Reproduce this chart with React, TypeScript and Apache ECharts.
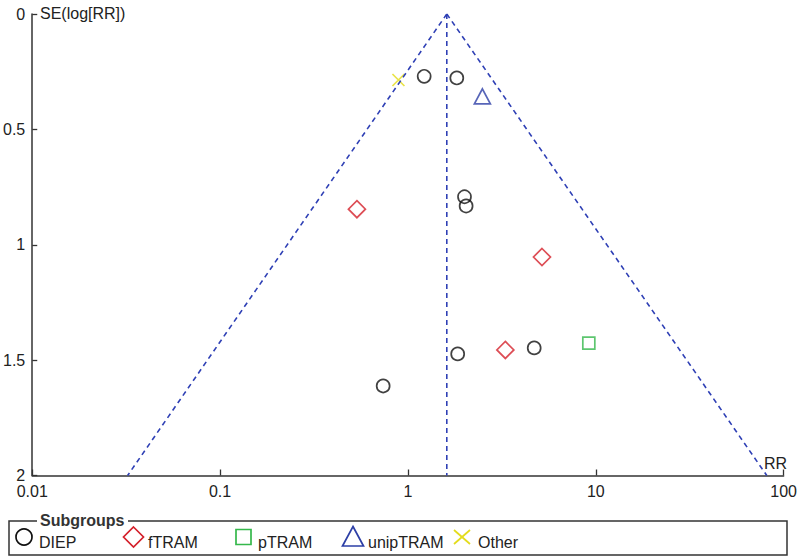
import React, { useEffect, useRef } from "react";
import * as echarts from "echarts";

// ---- data ----
const diepRR = [1.22, 1.82, 2.0, 2.04, 4.7, 1.84, 0.738];
const diepSE = [0.27, 0.277, 0.792, 0.832, 1.447, 1.473, 1.612];
const ftramRR = [0.535, 5.17, 3.3];
const ftramSE = [0.846, 1.053, 1.456];
const ptramRR = [9.18];
const ptramSE = [1.426];
const unipRR = [2.49];
const unipSE = [0.357];
const otherRR = [0.89];
const otherSE = [0.286];

const pooledRR = 1.61;
const funnelBottomRR = [0.0322, 81.3];
const seMax = 2;

const xTicks = [0.01, 0.1, 1, 10, 100];
const yTicks = [0, 0.5, 1, 1.5, 2];

const legendNames = ["DIEP", "fTRAM", "pTRAM", "unipTRAM", "Other"];

const FONT = "'Liberation Sans', Arial, sans-serif";
const BLUE = "#2f40b5";
const RED = "#d4202b";
const GREEN = "#35b84b";
const TRI = "#2d3fa6";
const YEL = "#e3dc1c";
const INK = "#222";

function pairs(xs: number[], ys: number[]) {
  return xs.map((x, i) => [x, ys[i]]);
}

export default function App() {
  const ref = useRef<HTMLDivElement>(null);
  useEffect(() => {
    if (!ref.current) return;
    const chart = echarts.init(ref.current, undefined, { renderer: "svg" });
    const hollow = (c: string) => ({ color: "none", borderColor: c, borderWidth: 1.7 });
    const dashed = { color: BLUE, width: 1.6, type: [5, 4] as any };
    const legY = 537;
    chart.setOption({
      animation: false,
      backgroundColor: "#fff",
      textStyle: { fontFamily: FONT },
      grid: { left: 31, right: 13, top: 14, bottom: 81.5, containLabel: false },
      xAxis: {
        type: "log",
        logBase: 10,
        position: "bottom",
        min: xTicks[0],
        max: xTicks[xTicks.length - 1],
        splitLine: { show: false },
        axisLine: { onZero: false, lineStyle: { color: "#333", width: 1.5 } },
        axisTick: { inside: true, length: 6, lineStyle: { color: "#333", width: 1.3 } },
        axisLabel: {
          color: INK,
          fontSize: 16,
          fontFamily: FONT,
          margin: 8,
          formatter: (v: number) => String(Number(v.toPrecision(6))),
        },
      },
      yAxis: {
        type: "value",
        inverse: true,
        position: "left",
        min: yTicks[0],
        max: yTicks[yTicks.length - 1],
        interval: 0.5,
        splitLine: { show: false },
        axisLine: { show: true, onZero: false, lineStyle: { color: "#333", width: 1.5 } },
        axisTick: { show: true, inside: true, length: 5, lineStyle: { color: "#333", width: 1.3 } },
        axisLabel: {
          color: INK,
          fontSize: 16,
          fontFamily: FONT,
          margin: 7,
          formatter: (v: number) => String(Number(v.toPrecision(6))),
        },
      },
      series: [
        {
          type: "line",
          data: [[pooledRR, 0], [funnelBottomRR[0], seMax]],
          symbol: "none",
          lineStyle: dashed,
          silent: true,
        },
        {
          type: "line",
          data: [[pooledRR, 0], [funnelBottomRR[1], seMax]],
          symbol: "none",
          lineStyle: dashed,
          silent: true,
        },
        {
          type: "line",
          data: [[pooledRR, 0], [pooledRR, seMax]],
          symbol: "none",
          lineStyle: dashed,
          silent: true,
        },
        {
          name: legendNames[0],
          type: "scatter",
          data: pairs(diepRR, diepSE),
          symbol: "circle",
          symbolSize: 13,
          itemStyle: hollow("#111"),
        },
        {
          name: legendNames[1],
          type: "scatter",
          data: pairs(ftramRR, ftramSE),
          symbol: "diamond",
          symbolSize: [17, 17],
          itemStyle: hollow(RED),
        },
        {
          name: legendNames[2],
          type: "scatter",
          data: pairs(ptramRR, ptramSE),
          symbol: "rect",
          symbolSize: [12, 12],
          itemStyle: hollow(GREEN),
        },
        {
          name: legendNames[3],
          type: "scatter",
          data: pairs(unipRR, unipSE),
          symbol: "triangle",
          symbolSize: [16, 15],
          itemStyle: hollow(TRI),
        },
        {
          name: legendNames[4],
          type: "scatter",
          data: pairs(otherRR, otherSE),
          symbol: "path://M0,0L10,10M10,0L0,10",
          symbolSize: [12, 12],
          itemStyle: hollow(YEL),
        },
      ],
      graphic: [
        {
          type: "text",
          x: 40,
          y: 13,
          style: { text: "SE(log[RR])", fill: INK, font: `16px ${FONT}`, verticalAlign: "middle" },
        },
        {
          type: "text",
          x: 787,
          y: 471,
          style: { text: "RR", fill: INK, font: `16px ${FONT}`, align: "right", verticalAlign: "bottom" },
        },
        // legend box
        {
          type: "rect",
          shape: { x: 9, y: 521, width: 778, height: 34 },
          style: { fill: "none", stroke: "#333", lineWidth: 1.5 },
        },
        {
          type: "rect",
          shape: { x: 37, y: 514, width: 91, height: 14 },
          style: { fill: "#fff", stroke: "none" },
        },
        {
          type: "text",
          x: 40,
          y: 520,
          style: { text: "Subgroups", fill: "#333", font: `bold 16px ${FONT}`, verticalAlign: "middle" },
        },
        {
          type: "circle",
          shape: { cx: 24, cy: legY, r: 8 },
          style: { fill: "none", stroke: "#111", lineWidth: 1.7 },
        },
        {
          type: "polygon",
          shape: { points: [[133.5, legY - 10], [143.5, legY], [133.5, legY + 10], [123.5, legY]] },
          style: { fill: "none", stroke: RED, lineWidth: 1.7 },
        },
        {
          type: "rect",
          shape: { x: 236, y: 529.5, width: 15, height: 15 },
          style: { fill: "none", stroke: GREEN, lineWidth: 1.7 },
        },
        {
          type: "polygon",
          shape: { points: [[353, 526.5], [363.5, 546], [342.5, 546]] },
          style: { fill: "none", stroke: TRI, lineWidth: 1.7 },
        },
        {
          type: "line",
          shape: { x1: 454, y1: 530, x2: 470, y2: 544 },
          style: { stroke: YEL, lineWidth: 1.7 },
        },
        {
          type: "line",
          shape: { x1: 470, y1: 530, x2: 454, y2: 544 },
          style: { stroke: YEL, lineWidth: 1.7 },
        },
        ...[
          [39, legendNames[0]],
          [148, legendNames[1]],
          [258, legendNames[2]],
          [368, legendNames[3]],
          [478, legendNames[4]],
        ].map(([x, t]) => ({
          type: "text",
          x: x as number,
          y: 542.5,
          style: { text: t as string, fill: INK, font: `16px ${FONT}`, verticalAlign: "middle" },
        })),
      ],
    });
    return () => chart.dispose();
  }, []);
  return (
    <div
      ref={ref}
      style={{ position: "fixed", left: 0, top: 0, width: 800, height: 557, background: "#fff" }}
    />
  );
}
